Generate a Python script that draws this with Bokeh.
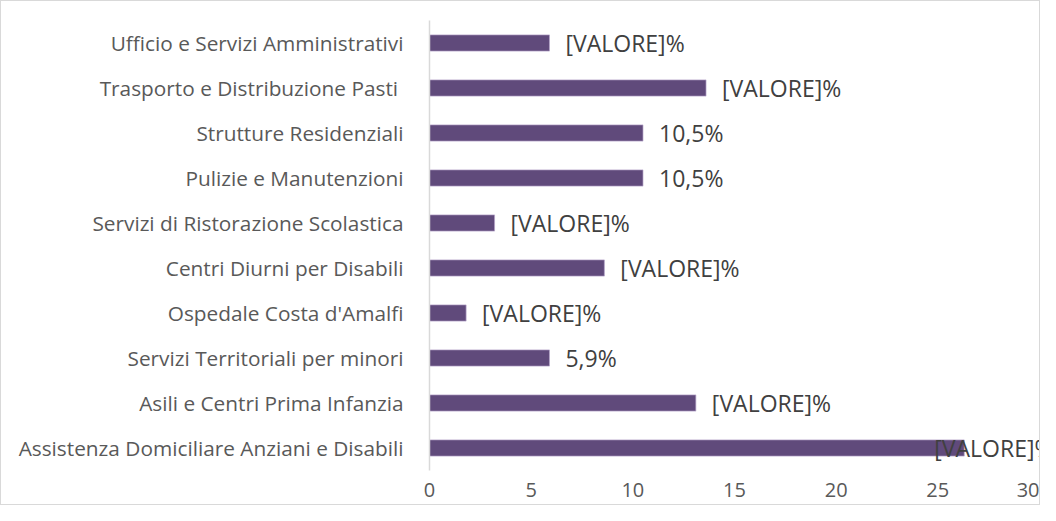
from bokeh.plotting import figure
from bokeh.models import Range1d, FactorRange, ColumnDataSource, FixedTicker
from bokeh.core.properties import value
from bokeh.embed import file_html
from bokeh.resources import INLINE

categories = [
    "Ufficio e Servizi Amministrativi",
    "Trasporto e Distribuzione Pasti ",
    "Strutture Residenziali",
    "Pulizie e Manutenzioni",
    "Servizi di Ristorazione Scolastica",
    "Centri Diurni per Disabili",
    "Ospedale Costa d'Amalfi",
    "Servizi Territoriali per minori",
    "Asili e Centri Prima Infanzia",
    "Assistenza Domiciliare Anziani e Disabili",
]
values = [5.9, 13.6, 10.5, 10.5, 3.2, 8.6, 1.8, 5.9, 13.1, 26.3]
labels = ["[VALORE]%", "[VALORE]%", "10,5%", "10,5%", "[VALORE]%",
          "[VALORE]%", "[VALORE]%", "5,9%", "[VALORE]%", "[VALORE]%"]
x_ticks = [0, 5, 10, 15, 20, 25, 30]

FONT = "Open Sans"
X_END = 30.1

p = figure(
    width=1040, height=505,
    y_range=FactorRange(*categories[::-1], range_padding=0),
    x_range=Range1d(0, X_END),
    output_backend="svg", toolbar_location=None,
    min_border_top=19, min_border_bottom=36, min_border_right=0, min_border_left=428,
)
p.styles = {"border": "1px solid #d9d9d9"}
p.outline_line_color = None
p.background_fill_color = "white"
p.border_fill_color = "white"
p.xgrid.grid_line_color = None
p.ygrid.grid_line_color = None

src = ColumnDataSource(dict(cat=categories, val=values, lab=labels))
p.hbar(y="cat", right="val", left=0, height=0.36, source=src,
       fill_color="#604A7B", line_color="#B3A2C7", line_width=0.7)

# value labels: outside the bar end, or pulled inside the plot if they'd overflow
out_idx = [i for i, v in enumerate(values) if v <= 25]
in_idx = [i for i, v in enumerate(values) if v > 25]
src_out = ColumnDataSource(dict(cat=[categories[i] for i in out_idx],
                                val=[values[i] for i in out_idx],
                                lab=[labels[i] for i in out_idx]))
src_in = ColumnDataSource(dict(cat=[categories[i] for i in in_idx],
                               x=[X_END for i in in_idx],
                               lab=[labels[i] for i in in_idx]))
p.text(x="val", y="cat", text="lab", source=src_out, x_offset=16,
       text_align="left", text_baseline="middle", text_font=value(FONT),
       text_font_size="23px", text_color="#404040")
p.text(x="x", y="cat", text="lab", source=src_in, x_offset=12,
       text_align="right", text_baseline="middle", text_font=value(FONT),
       text_font_size="23px", text_color="#404040")

xa = p.xaxis[0]
xa.ticker = FixedTicker(ticks=x_ticks)
xa.axis_line_color = None
xa.major_tick_line_color = None
xa.minor_tick_line_color = None
xa.major_label_text_font = FONT
xa.major_label_text_font_size = "20px"
xa.major_label_text_color = "#595959"
xa.major_label_standoff = 6

ya = p.yaxis[0]
ya.axis_line_color = "#d9d9d9"
ya.axis_line_width = 1.5
ya.major_tick_line_color = None
ya.minor_tick_line_color = None
ya.major_label_text_font = FONT
ya.major_label_text_font_size = "20.8px"
ya.major_label_text_color = "#595959"
ya.major_label_standoff = 20

open("out.html", "w").write(file_html(p, INLINE))
